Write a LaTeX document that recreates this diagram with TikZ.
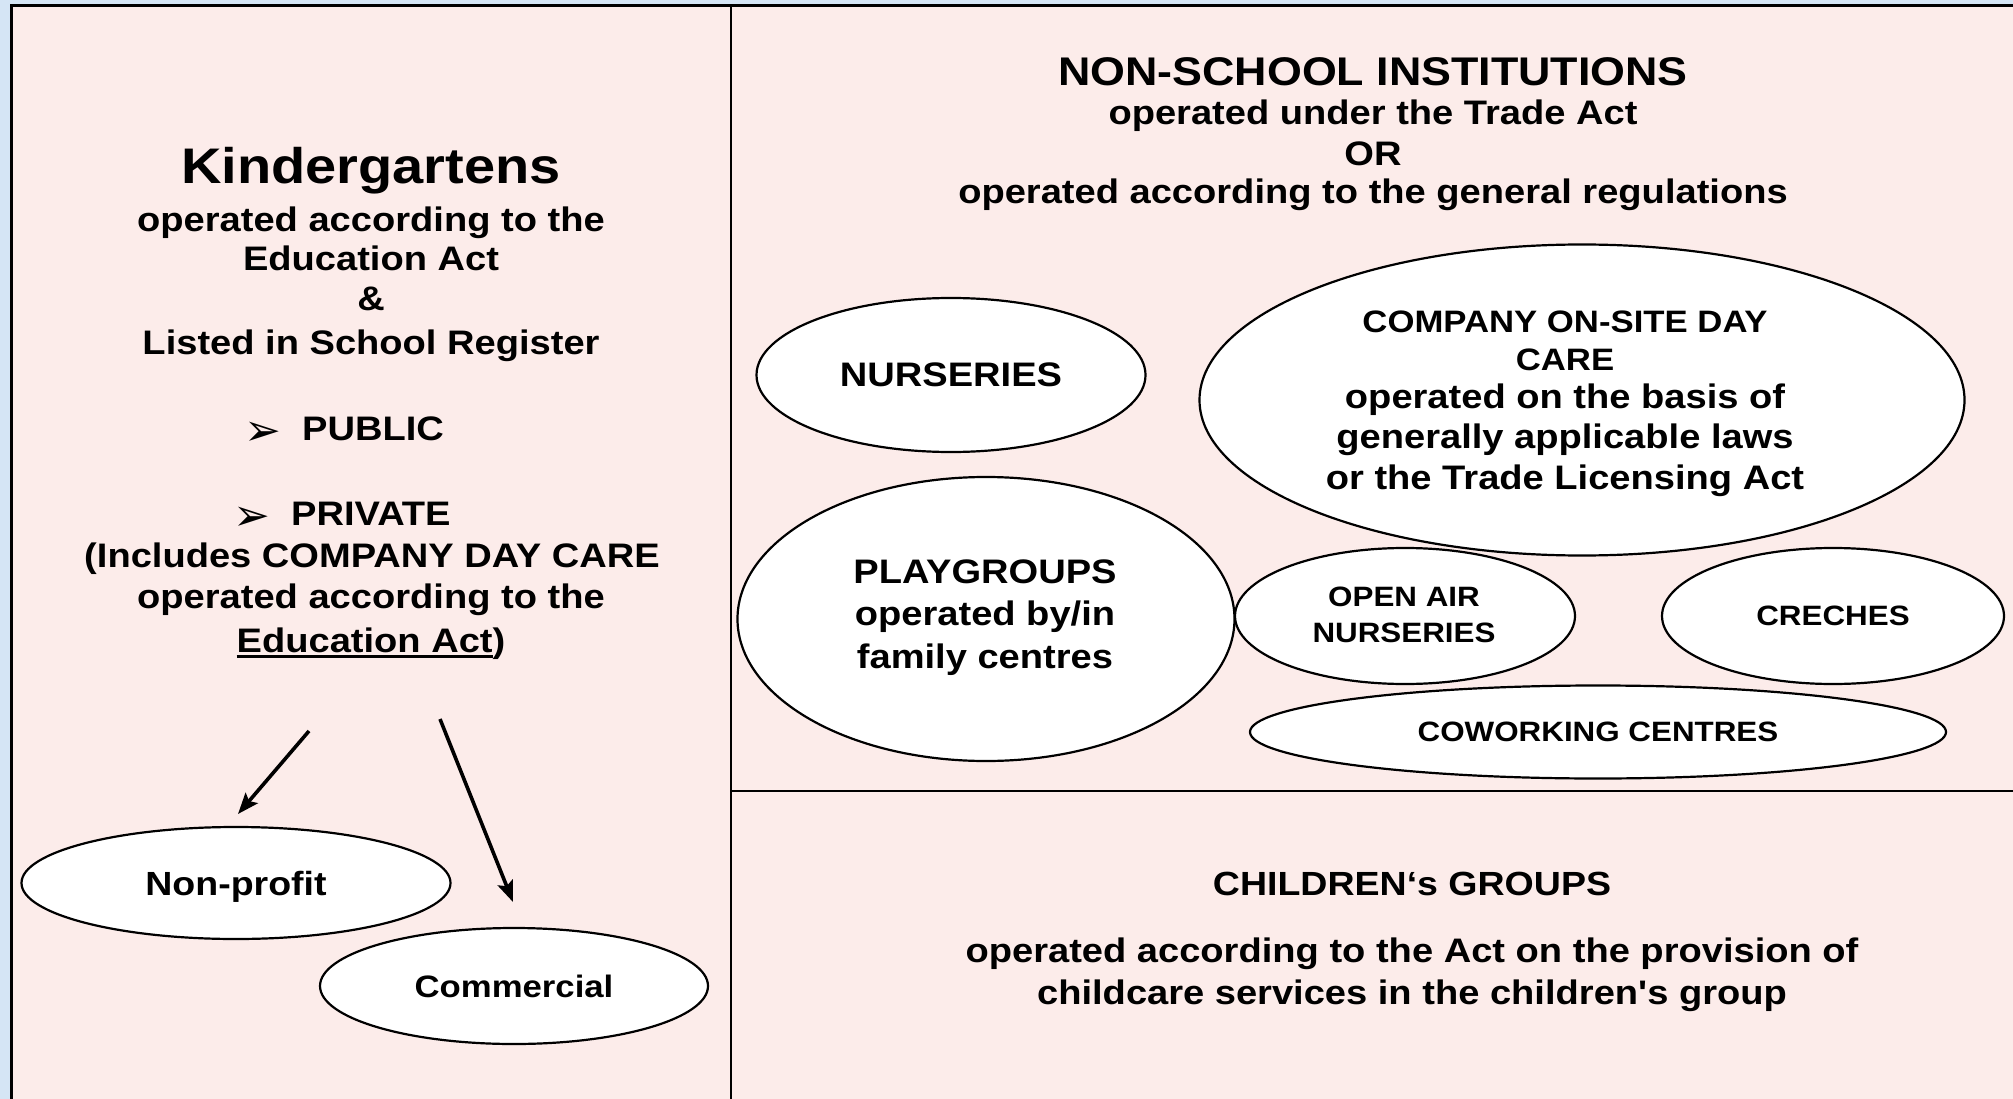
\documentclass[tikz,border=0pt]{standalone}
\usepackage{fontspec}
\setmainfont{Liberation Sans}[FakeStretch=1.12, Ligatures=TeXOff]
\newfontfamily\symfnt{DejaVu Sans}
\usetikzlibrary{shapes.geometric,arrows.meta}
\definecolor{pinkbg}{HTML}{FCECEA}
\definecolor{bluebg}{HTML}{D5E5F5}
\newcommand{\ulthick}[1]{\leavevmode\vtop{\hbox{#1}\kern3pt\hrule height 3pt}}
\begin{document}
\begin{tikzpicture}[x=1pt,y=-1pt,
  txt/.style={inner sep=0pt, anchor=base, font=\bfseries\fontsize{34}{40}\selectfont},
  bullet/.style={inner sep=0pt, anchor=base west, font=\symfnt\fontsize{44}{50}\selectfont},
  oval/.style={ellipse, draw, line width=2.2pt, fill=white, inner sep=0pt, align=center},
  arr/.style={line width=3.6pt, -{Stealth[length=21pt,width=16pt,inset=4pt]}},
  frameline/.style={line width=2.7pt},
  divline/.style={line width=1.8pt}]
\useasboundingbox (0,0) rectangle (2013,1099);
\fill[bluebg] (0,0) rectangle (2013,1099);
\fill[pinkbg] (11.3,5.3) rectangle (2013,1099);
\draw[frameline] (11.3,1099) -- (11.3,5.3) -- (2013,5.3);
\draw[divline] (731,5.3) -- (731,1099);
\draw[divline] (731,791) -- (2013,791);

% left panel
\node[txt, font=\bfseries\fontsize{50}{56}\selectfont] (k1) at (371,184) {Kindergartens};
\node[txt] (k2) at (371,232) {operated according to the};
\node[txt] (k3) at (371,271) {Education Act};
\node[txt] (k4) at (371,310) {\&};
\node[txt] (k5) at (371,354) {Listed in School Register};
\node[bullet] (b1) at (244,445) {➢};
\node[txt, anchor=base west] (k6) at (302,440) {PUBLIC};
\node[bullet] (b2) at (233,530) {➢};
\node[txt, anchor=base west] (k7) at (291,525) {PRIVATE};
\node[txt] (k8) at (372,567) {(Includes COMPANY DAY CARE};
\node[txt] (k9) at (371,608) {operated according to the};
\node[txt] (k10) at (371,652) {\ulthick{Education Act})};

\node[oval, minimum width=429pt, minimum height=112pt] (np) at (236,883) {};
\node[txt, font=\bfseries\fontsize{33.5}{40}\selectfont] (npt) at (236,895) {Non-profit};
\node[oval, minimum width=388pt, minimum height=116pt] (com) at (514,986) {};
\node[txt, font=\bfseries\fontsize{31}{37}\selectfont] (comt) at (514,997) {Commercial};

\coordinate (a1s) at (309,731);
\coordinate (a1e) at (238,814);
\coordinate (a2s) at (440,719);
\coordinate (a2e) at (513,902);
\draw[arr] (a1s) -- (a1e);
\draw[arr] (a2s) -- (a2e);

% right panel header
\node[txt, font=\bfseries\fontsize{40}{46}\selectfont] (h1) at (1373,86) {NON-SCHOOL INSTITUTIONS};
\node[txt] (h2) at (1373,125) {operated under the Trade Act};
\node[txt] (h3) at (1373,166) {OR};
\node[txt] (h4) at (1373,204) {operated according to the general regulations};

% ellipses
\node[oval, minimum width=389pt, minimum height=154pt, font=\bfseries\fontsize{34}{40}\selectfont] (nur) at (951,375) {NURSERIES};
\node[oval, minimum width=765pt, minimum height=311pt] (comp) at (1582,400) {};
\node[txt] (ct1) at (1565,333) {\fontsize{31}{37}\selectfont COMPANY ON-SITE DAY};
\node[txt] (ct2) at (1565,370) {\fontsize{31}{37}\selectfont CARE};
\node[txt] (ct3) at (1565,408) {operated on the basis of};
\node[txt] (ct4) at (1565,448) {generally applicable laws};
\node[txt] (ct5) at (1565,489) {or the Trade Licensing Act};
\node[oval, minimum width=497pt, minimum height=284pt] (play) at (986,619) {};
\node[txt] (pl1) at (985,583) {PLAYGROUPS};
\node[txt] (pl2) at (985,625) {operated by/in};
\node[txt] (pl3) at (985,668) {family centres};
\node[oval, minimum width=340pt, minimum height=136pt] (open) at (1405,616) {};
\node[txt, font=\bfseries\fontsize{28}{36}\selectfont] (op1) at (1404,606) {OPEN AIR};
\node[txt, font=\bfseries\fontsize{28}{36}\selectfont] (op2) at (1404,642) {NURSERIES};
\node[oval, minimum width=342pt, minimum height=136pt, font=\bfseries\fontsize{28}{36}\selectfont] (cre) at (1833,616)
  {CRECHES};
\node[oval, minimum width=696pt, minimum height=93pt, font=\bfseries\fontsize{28}{36}\selectfont] (cow) at (1598,732)
  {COWORKING CENTRES};

% children's groups
\node[txt, font=\bfseries\fontsize{33.5}{40}\selectfont] (cg1) at (1412,895) {CHILDREN‘s GROUPS};
\node[txt] (cg2) at (1412,962) {operated according to the Act on the provision of};
\node[txt] (cg3) at (1412,1004) {childcare services in the children's group};
\end{tikzpicture}
\end{document}
